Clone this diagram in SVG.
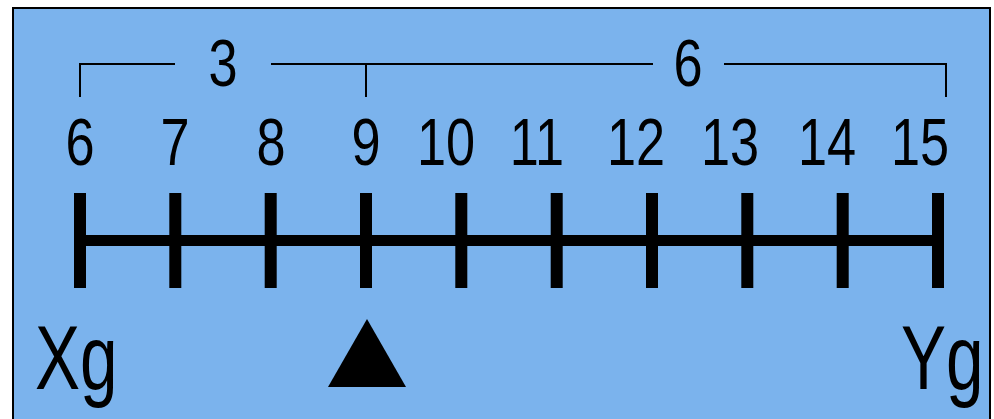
<svg xmlns="http://www.w3.org/2000/svg" width="994" height="419" viewBox="0 0 994 419">
<style>
.t{font-family:"Liberation Sans",Arial,sans-serif;font-size:67px;fill:#000;text-anchor:middle}
.b{font-family:"Liberation Sans",Arial,sans-serif;font-size:90px;fill:#000}
.br{stroke:#000;stroke-width:2;fill:none}
.tk{fill:#000}
</style>
<rect x="13" y="8" width="977" height="420" fill="#7BB3ED" stroke="#000" stroke-width="2"/>
<g id="bracket">
<path class="br" d="M80,97 V64 H175 M271,64 H653 M724,64 H946 V97 M366,64 V97"/>
<g transform="translate(223,86) scale(0.78,1)"><text class="t" x="0" y="0">3</text></g>
<g transform="translate(688,86) scale(0.78,1)"><text class="t" x="0" y="0">6</text></g>
</g>
<g id="labels">
<g transform="translate(80,165) scale(0.78,1)"><text class="t">6</text></g>
<g transform="translate(175,165) scale(0.78,1)"><text class="t">7</text></g>
<g transform="translate(271,165) scale(0.78,1)"><text class="t">8</text></g>
<g transform="translate(366,165) scale(0.78,1)"><text class="t">9</text></g>
<g transform="translate(446,165) scale(0.78,1)"><text class="t">10</text></g>
<g transform="translate(537,165) scale(0.78,1)"><text class="t">11</text></g>
<g transform="translate(636,165) scale(0.78,1)"><text class="t">12</text></g>
<g transform="translate(730,165) scale(0.78,1)"><text class="t">13</text></g>
<g transform="translate(827,165) scale(0.78,1)"><text class="t">14</text></g>
<g transform="translate(920,165) scale(0.78,1)"><text class="t">15</text></g>
</g>
<g id="scale">
<rect class="tk" x="80" y="235" width="858" height="11"/>
<rect class="tk" x="74" y="193" width="12" height="95"/>
<rect class="tk" x="169.3" y="193" width="12" height="95"/>
<rect class="tk" x="264.7" y="193" width="12" height="95"/>
<rect class="tk" x="360" y="193" width="12" height="95"/>
<rect class="tk" x="455.3" y="193" width="12" height="95"/>
<rect class="tk" x="550.7" y="193" width="12" height="95"/>
<rect class="tk" x="646" y="193" width="12" height="95"/>
<rect class="tk" x="741.3" y="193" width="12" height="95"/>
<rect class="tk" x="836.7" y="193" width="12" height="95"/>
<rect class="tk" x="932" y="193" width="12" height="95"/>
</g>
<g id="pointer">
<polygon points="367,319 328,387 406,387" fill="#000"/>
</g>
<g id="xg" transform="translate(35,389) scale(0.75,1)"><text class="b" x="0" y="0">Xg</text></g>
<g id="yg" transform="translate(901,389) scale(0.75,1)"><text class="b" x="0" y="0">Yg</text></g>
</svg>
